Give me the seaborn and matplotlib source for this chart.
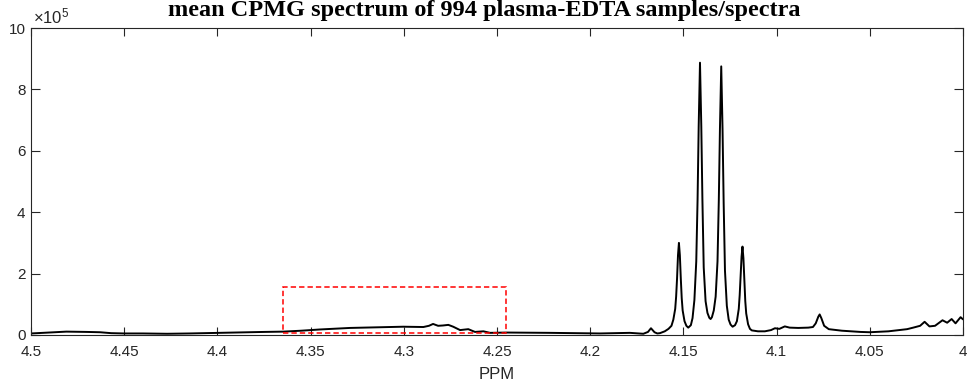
import numpy as np
import pandas as pd
import matplotlib
matplotlib.use("Agg")
import matplotlib.pyplot as plt
import seaborn as sns
from matplotlib.patches import Rectangle
from matplotlib.ticker import FixedLocator, FuncFormatter

# ---- data (intensity in units of 1e5) ----
ppm = [4.500, 4.490, 4.481, 4.470, 4.463, 4.457, 4.450, 4.440, 4.427, 4.415,
       4.400, 4.390, 4.3825, 4.375, 4.3647, 4.355, 4.345, 4.3289, 4.315, 4.3003,
       4.2895, 4.2865, 4.2843, 4.2816, 4.2790, 4.2761, 4.2735, 4.2698, 4.2654, 4.2618,
       4.2573, 4.2537, 4.2448, 4.2216, 4.2080, 4.1948, 4.1787, 4.1715, 4.1690, 4.1674,
       4.1655, 4.1640, 4.1626, 4.1600, 4.1580,
       # doublet-of-quartet region
       4.1564, 4.1554, 4.1544, 4.1539, 4.1534, 4.1529, 4.1524, 4.1519, 4.1514, 4.1509,
       4.1504, 4.1494, 4.1484, 4.1474,
       4.1460, 4.1451, 4.1441, 4.1431, 4.1424, 4.1418, 4.1411, 4.1404, 4.1398, 4.1391,
       4.1381, 4.1371, 4.1361, 4.1354,
       4.1347, 4.1337, 4.1327, 4.1317, 4.1310, 4.1304, 4.1297, 4.1290, 4.1284, 4.1277,
       4.1267, 4.1257, 4.1247, 4.1236,
       4.1223, 4.1213, 4.1203, 4.1198, 4.1193, 4.1188, 4.1183, 4.1178, 4.1173, 4.1168,
       4.1163, 4.1153, 4.1143, 4.1133, 4.1100,
       # right part
       4.1063, 4.1030, 4.1009, 4.0985, 4.0956,
       4.0930, 4.0884, 4.0830, 4.0805, 4.0790, 4.0776, 4.0769, 4.0760, 4.0745, 4.0720,
       4.0650, 4.0550, 4.0500, 4.0400, 4.0300, 4.0267, 4.0230, 4.0206, 4.0180, 4.0150,
       4.0110, 4.0085, 4.0061, 4.0040, 4.0013, 4.0000]
intensity_1e5 = [0.05, 0.08, 0.11, 0.10, 0.09, 0.06, 0.05, 0.05, 0.04, 0.05,
                 0.07, 0.08, 0.09, 0.10, 0.11, 0.14, 0.18, 0.23, 0.25, 0.27,
                 0.26, 0.30, 0.36, 0.30, 0.31, 0.33, 0.27, 0.16, 0.19, 0.10,
                 0.12, 0.07, 0.08, 0.07, 0.06, 0.05, 0.07, 0.04, 0.10, 0.22,
                 0.09, 0.05, 0.06, 0.12, 0.20,
                 0.30, 0.50, 0.85, 1.25, 1.85, 2.60, 3.00, 2.60, 1.85, 1.20,
                 0.80, 0.45, 0.30, 0.24,
                 0.32, 0.55, 1.14, 2.40, 4.40, 6.80, 8.87, 6.80, 4.40, 2.20,
                 1.10, 0.72, 0.56, 0.52,
                 0.58, 0.80, 1.25, 2.40, 4.40, 6.70, 8.75, 6.70, 4.30, 2.10,
                 0.95, 0.50, 0.34, 0.27,
                 0.32, 0.45, 0.85, 1.30, 1.90, 2.55, 2.88, 2.50, 1.80, 1.10,
                 0.70, 0.35, 0.20, 0.15, 0.12,
                 0.12, 0.16, 0.22, 0.20, 0.28,
                 0.24, 0.23, 0.24, 0.26, 0.38, 0.60, 0.67, 0.55, 0.30, 0.19,
                 0.14, 0.10, 0.09, 0.12, 0.19, 0.24, 0.30, 0.43, 0.28, 0.30,
                 0.48, 0.40, 0.52, 0.38, 0.58, 0.51]

x_ticks = [4.5, 4.45, 4.4, 4.35, 4.3, 4.25, 4.2, 4.15, 4.1, 4.05, 4.0]
y_ticks_1e5 = [0, 2, 4, 6, 8, 10]
box_ppm = [4.365, 4.245]
box_int_1e5 = [0.05, 1.57]
title = "mean CPMG spectrum of 994 plasma-EDTA samples/spectra"

df = pd.DataFrame({"PPM": ppm, "intensity": np.array(intensity_1e5) * 1e5})

sns.set_theme(style="white")
plt.rcParams["font.family"] = ["Liberation Sans", "DejaVu Sans"]
plt.rcParams["mathtext.fontset"] = "custom"
plt.rcParams["mathtext.rm"] = "Liberation Sans"
plt.rcParams["mathtext.it"] = "Liberation Sans:italic"

axc = "#262626"
fig = plt.figure(figsize=(9.69, 3.87), dpi=100)
ax = fig.add_axes([31 / 969, 1 - 335 / 387, (963 - 31) / 969, (335 - 28) / 387])

sns.lineplot(data=df, x="PPM", y="intensity", ax=ax, color="black",
             linewidth=1.4, estimator=None, sort=False)

ax.add_patch(Rectangle((box_ppm[0], box_int_1e5[0] * 1e5),
                       box_ppm[1] - box_ppm[0], (box_int_1e5[1] - box_int_1e5[0]) * 1e5,
                       fill=False, edgecolor="red", linewidth=1.1,
                       linestyle=(0, (3.5, 2)), zorder=3))

ax.set_xlim(4.5, 4.0)
ax.set_ylim(0, 10e5)
ax.xaxis.set_major_locator(FixedLocator(x_ticks))
ax.xaxis.set_major_formatter(FuncFormatter(lambda v, p: f"{v:g}"))
ax.yaxis.set_major_locator(FixedLocator([t * 1e5 for t in y_ticks_1e5]))
ax.yaxis.set_major_formatter(FuncFormatter(lambda v, p: f"{v / 1e5:g}"))

for s in ax.spines.values():
    s.set_visible(True)
    s.set_color(axc)
    s.set_linewidth(0.8)
ax.tick_params(axis="both", direction="in", colors=axc, labelcolor=axc,
               labelsize=11, width=0.8, top=True, right=True, bottom=True, left=True)
ax.tick_params(axis="x", length=5.5, pad=7)
ax.tick_params(axis="y", length=6.5, pad=4)

ax.set_xlabel("PPM", fontsize=12, color=axc, labelpad=6)
ax.set_ylabel("")
ax.text(0.002, 1.004, r"$\times10^{5}$", transform=ax.transAxes, ha="left",
        va="bottom", fontsize=12, color=axc)

fig.text(0.5, 1 - 16 / 387, title, ha="center", va="baseline",
         fontsize=17.5, fontweight="bold", family=["Liberation Serif"], color="black")

fig.savefig("out.png", dpi=100)
